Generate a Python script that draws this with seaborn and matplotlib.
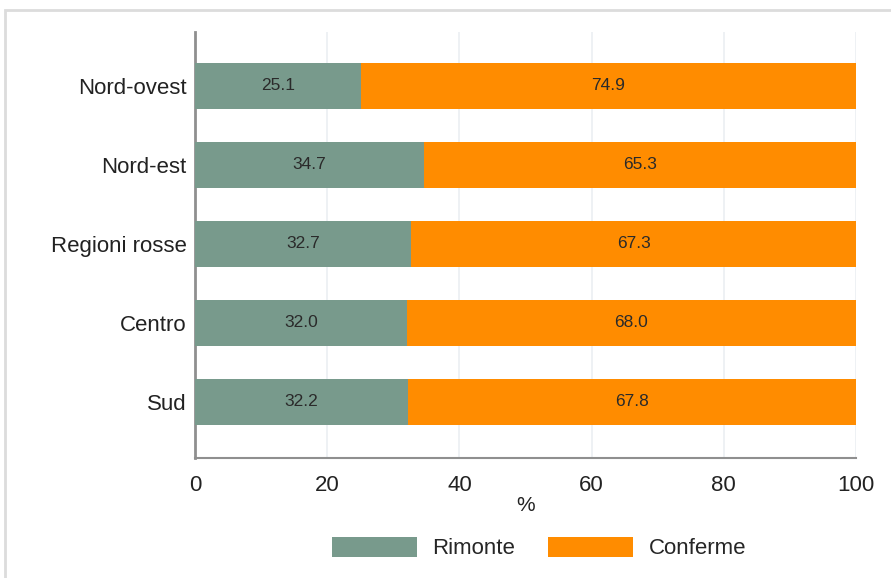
import matplotlib
matplotlib.use("Agg")
import matplotlib.pyplot as plt
from matplotlib.patches import Patch, Rectangle
import seaborn as sns
import pandas as pd

# valori
aree = ["Nord-ovest", "Nord-est", "Regioni rosse", "Centro", "Sud"]
rimonte = [25.1, 34.7, 32.7, 32.0, 32.2]
conferme = [74.9, 65.3, 67.3, 68.0, 67.8]
serie = ["Rimonte", "Conferme"]
xticks = [0, 20, 40, 60, 80, 100]

col_rim = "#789a8c"
col_conf = "#ff8c00"

sns.set_theme(style="white")
plt.rcParams['font.family'] = ['Liberation Sans', 'DejaVu Sans']

df = pd.DataFrame({"area": aree, "Rimonte": rimonte, "Conferme": conferme})
df["totale"] = df["Rimonte"] + df["Conferme"]

fig = plt.figure(figsize=(8.91, 5.78), dpi=100)
ax = fig.add_axes([0.2189, 0.2076, 0.7418, 0.737])

# barre impilate: prima il totale (arancione), poi le rimonte sopra
sns.barplot(data=df, y="area", x="totale", order=aree, color=col_conf,
            width=0.58, orient="h", ax=ax, saturation=1, linewidth=0, zorder=2)
sns.barplot(data=df, y="area", x="Rimonte", order=aree, color=col_rim,
            width=0.58, orient="h", ax=ax, saturation=1, linewidth=0, zorder=3)

for i, (r, c) in enumerate(zip(rimonte, conferme)):
    ax.text(r / 2, i, f"{r:.1f}", ha="center", va="center", fontsize=12.5,
            color="#2a2a2a", zorder=4)
    ax.text(r + c / 2, i, f"{c:.1f}", ha="center", va="center", fontsize=12.5,
            color="#2a2a2a", zorder=4)

ax.set_xlim(0, 100)
ax.set_ylim(4.71, -0.68)
ax.set_xticks(xticks)
ax.set_xticklabels([str(t) for t in xticks], fontsize=16, color="#222222")
ax.tick_params(axis="x", length=7, width=1.2, color="#8a8a8a", pad=5)
ax.tick_params(axis="y", length=0, labelsize=16, labelcolor="#222222", pad=6)
ax.set_xlabel("%", fontsize=15, color="#222222", labelpad=0)
ax.set_ylabel("")

ax.xaxis.grid(True, color="#ebeff2", linewidth=1.2, zorder=0)
ax.set_axisbelow(True)
for s in ["top", "right"]:
    ax.spines[s].set_visible(False)
ax.spines["left"].set_color("#8f8f8f")
ax.spines["left"].set_linewidth(2)
ax.spines["bottom"].set_color("#8f8f8f")
ax.spines["bottom"].set_linewidth(1.5)

handles = [Patch(facecolor=col_rim, edgecolor="none"),
           Patch(facecolor=col_conf, edgecolor="none")]
fig.legend(handles, serie, loc="center", bbox_to_anchor=(0.605, 0.052),
           ncol=2, frameon=False, fontsize=16, handlelength=3.8,
           handleheight=1.0, handletextpad=0.7, columnspacing=1.5)

# cornice esterna grigia
fig.patches.append(Rectangle((0.006, -0.01), 1.0, 0.993, transform=fig.transFigure,
                             fill=False, edgecolor="#dcdcdc", linewidth=2))

fig.savefig("out.png", dpi=100)
